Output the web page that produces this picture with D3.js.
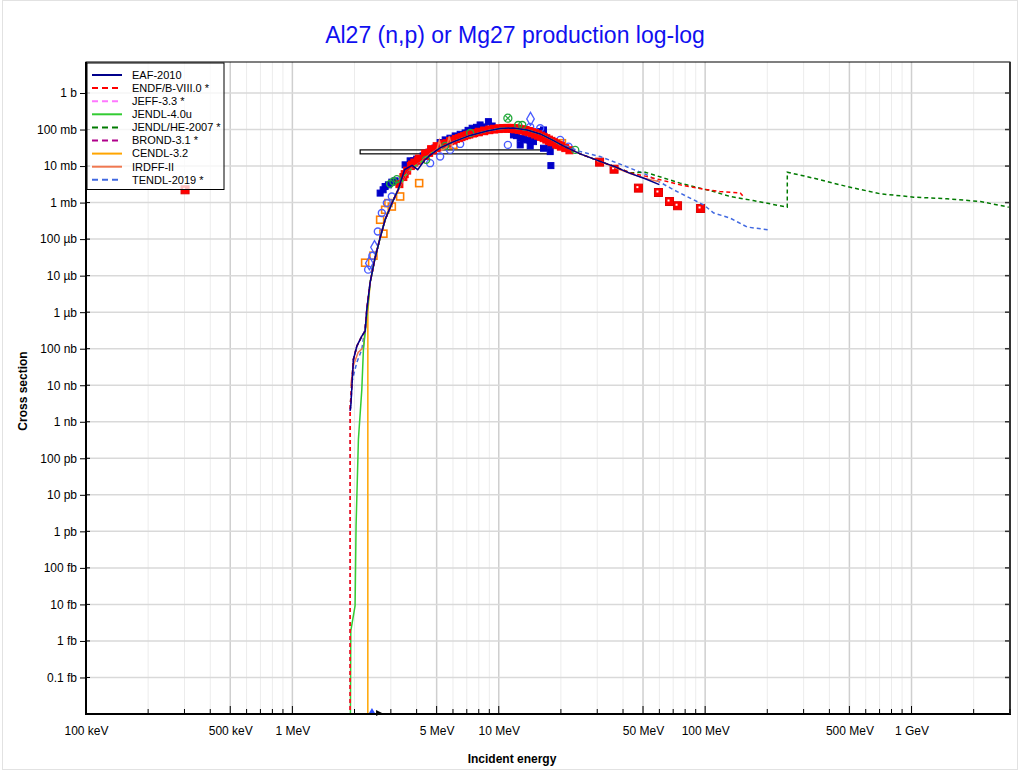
<!DOCTYPE html>
<html><head><meta charset="utf-8">
<script src="https://cdn.jsdelivr.net/npm/d3@7"></script>
<style>
body{margin:0;background:#fff}
text{font-family:"Liberation Sans",Arial,Helvetica,sans-serif}
</style>
</head><body>
<svg id="chart" width="1020" height="772"></svg>
<script>
// ---------------- DATA (energy in MeV, cross section in barns) ----------------
const titleText = "Al27 (n,p) or Mg27 production log-log";
const xTickValues = [0.1, 0.5, 1, 5, 10, 50, 100, 500, 1000];
const xTickLabels = ["100 keV","500 keV","1 MeV","5 MeV","10 MeV","50 MeV","100 MeV","500 MeV","1 GeV"];
const yTickValues = [1,1e-1,1e-2,1e-3,1e-4,1e-5,1e-6,1e-7,1e-8,1e-9,1e-10,1e-11,1e-12,1e-13,1e-14,1e-15,1e-16];
const yTickLabels = ["1 b","100 mb","10 mb","1 mb","100 µb","10 µb","1 µb","100 nb","10 nb","1 nb","100 pb","10 pb","1 pb","100 fb","10 fb","1 fb","0.1 fb"];

const coreRise = [[2.380,6.44e-6],[2.517,3.10e-5],[2.662,1.09e-4],[2.814,3.39e-4],[3.043,9.87e-4],[3.254,2.24e-3]];
const corePeak = [[3.518,5.40e-3],[3.805,8.93e-3],[4.159,1.223e-2],[4.650,2.154e-2],[5.200,3.143e-2],[6.011,4.58e-2],[7.268,6.90e-2],[8.785,9.16e-2],[10.16,0.1072],[11.74,0.1106],[13.73,0.0975],[15.88,0.0758],[18.35,0.0504],[20.0,0.0375]];
const coreHigh = [[20.98,0.0335],[24.81,0.02154],[31.0,0.01344],[36.66,9.51e-3],[43.35,6.52e-3]];

const eafLow = [[1.906,2.0e-9],[1.919,2.7e-9],[1.976,5.07e-8],[2.052,1.17e-7],[2.170,2.2e-7],[2.251,3.0e-7],[2.294,1.18e-6]];
const eafMid = [[3.50,8.0e-3],[3.80,1.05e-2],[4.05,8.0e-3],[4.35,1.4e-2],[4.65,2.0e-2]];
const eafPeak = [[5.200,3.143e-2],[6.011,4.58e-2],[7.268,6.90e-2],[8.785,9.16e-2],[10.16,0.1072],[11.74,0.1106],[13.73,0.0975],[15.88,0.0758],[18.35,0.0504],[20.98,0.0335],[24.81,0.02154],[31.0,0.01344],[36.66,9.51e-3],[43.35,6.3e-3],[51.25,4.5e-3],[60.0,3.1e-3]];

const endfThreshold = [[1.904,1e-22],[1.906,2.5e-9]];
const endfHigh = [[51.25,5.3e-3],[60.6,4.2e-3],[75.7,3.06e-3],[98.2,2.34e-3],[118,2.0e-3],[148,1.82e-3],[152,1.53e-3]];

const jendl4Low = [[1.904,1e-22],[1.919,1.9e-15],[2.013,9.2e-15],[2.035,1.4e-12],[2.089,3.3e-10],[2.170,7.7e-9],[2.209,9.5e-8],[2.294,7.7e-7]];

const jendlHeHigh = [[51.25,6.8e-3],[75.7,3.41e-3],[110,2.0e-3],[132,1.47e-3],[171,1.14e-3],[250,7.5e-4],[250.1,6.8e-3],[335,4.67e-3],[487,2.75e-3],[706,1.74e-3],[1024,1.41e-3],[1486,1.27e-3],[2157,1.07e-3],[2956,7.5e-4]];

const cendlLow = [[2.32,1e-22],[2.321,1.0e-6]];

const irdffLow = [[1.919,9.5e-9],[1.969,3.3e-8],[2.082,7.9e-8],[2.209,1.07e-7],[2.294,1.0e-6]];
const irdffMid = [[3.518,5.40e-3],[3.805,8.93e-3],[4.159,1.223e-2],[4.650,2.154e-2],[5.0,2.6e-2],[5.15,5.0e-2],[5.3,2.7e-2],[5.6,3.3e-2],[5.75,6.5e-2],[5.9,3.6e-2],[6.011,4.58e-2],[7.268,6.90e-2],[8.785,9.16e-2],[10.16,0.1072],[11.74,0.1106],[13.73,0.0975],[15.88,0.0758],[18.35,0.0504],[20.98,0.0335],[24.81,0.02154],[31.0,0.01344],[36.66,9.0e-3],[43.35,6.2e-3],[51.25,4.6e-3],[60.0,3.7e-3]];

const tendlLow = [[1.941,1.2e-8],[2.052,4.2e-8],[2.170,9.5e-8],[2.294,9.0e-7]];
const tendlHigh = [[20.98,0.036],[24.81,0.0249],[31.0,0.0182],[40.0,0.0105],[52.2,5.75e-3],[70.3,2.24e-3],[98.2,8.7e-4],[110,5.2e-4],[132,3.77e-4],[160,2.14e-4],[203,1.8e-4]];

// experimental points
const expBlueFilled = [[2.662,1.82e-3],[2.752,2.24e-3],[2.814,2.75e-3],[2.919,3.06e-3],[3.033,3.63e-3],[3.147,3.94e-3],[3.518,0.0108],[3.72,0.0139],[3.87,0.0139],[4.0,0.0155],[4.3,0.019],[4.6,0.024],[4.9,0.031],
  [5.20,0.044],[5.50,0.052],[5.8,0.058],[6.15,0.0668],[6.5,0.074],[6.87,0.0807],[7.1,0.095],[7.43,0.1085],[7.8,0.115],[8.12,0.1336],[8.5,0.1178],[8.91,0.1644],[9.29,0.125],
  [11.78,0.0712],[12.2,0.068],[12.7,0.0578],[13.2,0.056],[13.68,0.052],[14.2,0.05],[14.73,0.0467],[15.88,0.0877],[16.47,0.0975],[17.75,0.038],[16.47,0.0308],[17.75,0.0249],[17.89,0.0103],[12.7,0.0379],[14.2,0.0356]];
const expBlueOpen = [[2.328,1.46e-5],[2.442,3.52e-5],[2.594,1.62e-4],[2.713,5.17e-4],[2.869,9.7e-4],[3.033,1.47e-3],
  [4.65,0.012],[5.2,0.0182],[5.81,0.0277],[6.50,0.0404],[11.07,0.038],[19.85,0.052],[21.78,0.0341],[15.88,0.1085],[14.2,0.118]];
const expBlueDiamond = [[14.25,0.195],[2.36,2.2e-5],[2.5,6.0e-5]];
const expOrangeOpen = [[2.251,2.26e-5],[2.47,3.52e-5],[2.662,3.39e-4],[2.761,1.41e-4],[2.814,6.36e-4],[2.919,9.7e-4],[3.033,7.8e-4],[3.327,1.47e-3],[4.114,3.41e-3],[6.03,0.038],[19.12,0.038],[20.23,0.0422]];
const expRedBand = [[3.3,3.2e-3],[3.45,5.0e-3],[3.6,7.5e-3],[3.75,1.0e-2],[3.9,1.25e-2],[4.05,1.4e-2],[4.2,1.55e-2],[4.4,1.9e-2],[4.6,2.3e-2],[4.8,2.7e-2],[5.0,3.1e-2],[5.3,3.6e-2],[5.6,4.2e-2],[6.0,5.0e-2],[6.4,5.8e-2],[6.8,6.6e-2],[7.2,7.3e-2],[7.6,8.0e-2],[8.0,8.7e-2],[8.5,9.4e-2],[9.0,0.100],[9.5,0.105],[10.0,0.108],[10.5,0.110],[11.0,0.111],[11.5,0.111],[12.0,0.109],[12.5,0.106],[13.0,0.102],[13.5,0.097],[14.0,0.091],[14.5,0.085],[15.0,0.080],[15.5,0.074],[16.0,0.068],[16.5,0.063],[17.0,0.058],[17.5,0.053],[18.0,0.049],[18.5,0.045],[19.0,0.041],[19.5,0.038],[20.0,0.036],[21,0.031],[22,0.027]];
const expRedBand2 = [[3.5,6.0e-3],[3.8,1.1e-2],[4.1,1.6e-2],[4.4,2.2e-2],[4.7,2.9e-2],[5.0,3.5e-2],[5.4,4.1e-2],[5.8,4.8e-2],[6.2,5.5e-2],[6.6,6.2e-2],[7.0,7.0e-2],[7.5,7.8e-2],[8.0,8.4e-2],[8.5,9.0e-2],[9.0,9.6e-2],[9.5,1.0e-1],[10.0,0.103],[10.5,0.105],[11.0,0.105],[11.5,0.104],[12.0,0.101],[12.5,0.098],[13.0,0.094],[13.5,0.089],[14.0,0.084],[14.5,0.079],[15.0,0.073],[15.5,0.068],[16.0,0.063],[16.5,0.058],[17.0,0.053],[17.5,0.049],[18.0,0.045],[19.0,0.039],[20.0,0.034]];
const expRedHigh = [[30.8,0.0128],[36.2,8.2e-3],[47.5,2.49e-3],[59.4,1.89e-3],[67.2,1.07e-3],[73.5,8.2e-4],[95,6.9e-4],[0.302,2.24e-3]];
const expGreenOpen = [[2.976,3.26e-3],[3.088,3.77e-3],[3.207,4.39e-3],[4.45,0.0148],[5.50,0.0356],[7.27,0.0807],[12.42,0.1336],[13.0,0.1336],[23.46,0.0277]];
const expGreenCross = [[11.07,0.204]];
const integralBox = {e0:2.13, e1:18.2, s0:0.0216, s1:0.0277};
const offScale = [[2.43,"blue"],[2.63,"black"]];

const series = [
  {name:"EAF-2010", color:"#00008b", dash:null, data:[...eafLow, ...coreRise, ...eafMid, ...eafPeak]},
  {name:"ENDF/B-VIII.0 *", color:"#ff0000", dash:"4,3", data:[...endfThreshold, ...eafLow.slice(2), ...coreRise, ...corePeak, ...coreHigh, ...endfHigh]},
  {name:"JEFF-3.3 *", color:"#ff77ff", dash:"4,3", data:[...endfThreshold, ...eafLow.slice(2), ...coreRise, ...corePeak]},
  {name:"JENDL-4.0u", color:"#33cc33", dash:null, data:[...jendl4Low, ...coreRise, ...corePeak]},
  {name:"JENDL/HE-2007 *", color:"#007a00", dash:"4,3", data:[...endfThreshold, ...eafLow.slice(2), ...coreRise, ...corePeak, ...coreHigh, ...jendlHeHigh]},
  {name:"BROND-3.1 *", color:"#b0008a", dash:"4,3", data:[...eafLow, ...coreRise, ...corePeak]},
  {name:"CENDL-3.2", color:"#ffa500", dash:null, data:[...cendlLow, ...coreRise, ...corePeak]},
  {name:"IRDFF-II", color:"#f07850", dash:null, data:[...irdffLow, ...coreRise, ...irdffMid]},
  {name:"TENDL-2019 *", color:"#4169e1", dash:"4,3", data:[...tendlLow, ...coreRise, ...corePeak, ...tendlHigh]}
];
const drawOrder = [8,7,6,5,4,3,2,1,0];

// ---------------- CHART ----------------
const W = 1020, H = 772;
const L = 86, R = 1010, T = 62, B = 714;
const svg = d3.select("#chart");
svg.append("rect").attr("width",W).attr("height",H).attr("fill","#fff");
svg.append("rect").attr("x",2.5).attr("y",0.5).attr("width",W-5).attr("height",H-3)
  .attr("fill","none").attr("stroke","#e2e2e2");

const x = d3.scaleLog().domain([0.1, 3000]).range([L, R]);
const y = d3.scaleLog().domain([1e-17, 7.06]).range([B, T]);

// grid
const g = svg.append("g");
const minorX = [];
for (let d = 0.1; d < 3000; d *= 10) for (let k = 1; k < 10; k++) { const v = d*k; if (v <= 3000) minorX.push(v); }
minorX.forEach(v => {
  const k = Math.round(v / Math.pow(10, Math.floor(Math.log10(v)+1e-9)));
  const major = (k === 1 || k === 5);
  g.append("line").attr("x1",x(v)).attr("x2",x(v)).attr("y1",T).attr("y2",B)
    .attr("stroke", major ? "#cfcfcf" : "#ececec").attr("stroke-width", major ? 1.5 : 1);
});
yTickValues.forEach(v => {
  g.append("line").attr("x1",L).attr("x2",R).attr("y1",y(v)).attr("y2",y(v))
    .attr("stroke","#d9d9d9").attr("stroke-width",1.5);
});

// clip
svg.append("clipPath").attr("id","clip").append("rect").attr("x",L).attr("y",T).attr("width",R-L).attr("height",B-T);
const plot = svg.append("g").attr("clip-path","url(#clip)");

// integral box
plot.append("rect").attr("x",x(integralBox.e0)).attr("y",y(integralBox.s1))
  .attr("width",x(integralBox.e1)-x(integralBox.e0)).attr("height",y(integralBox.s0)-y(integralBox.s1))
  .attr("fill","none").attr("stroke","#000").attr("stroke-width",1.2);

// markers
const sq = (sel, data, fill, stroke, size, sw) => sel.selectAll(null).data(data).enter().append("rect")
  .attr("x",d=>x(d[0])-size/2).attr("y",d=>y(d[1])-size/2).attr("width",size).attr("height",size)
  .attr("fill",fill).attr("stroke",stroke).attr("stroke-width",sw||1);
sq(plot, expOrangeOpen, "none", "#ff8000", 7, 1.6);
sq(plot, expBlueFilled, "#0000c8", "#0000c8", 6, 1);
plot.selectAll(null).data(expBlueOpen).enter().append("circle")
  .attr("cx",d=>x(d[0])).attr("cy",d=>y(d[1])).attr("r",3.5).attr("fill","none").attr("stroke","#4a5cff").attr("stroke-width",1.4);
plot.selectAll(null).data(expBlueDiamond).enter().append("path")
  .attr("transform",d=>`translate(${x(d[0])},${y(d[1])})`).attr("d",d3.symbol(d3.symbolDiamond,50))
  .attr("fill","none").attr("stroke","#4a5cff").attr("stroke-width",1.3);
sq(plot, expRedBand2, "#ff0000", "#ff0000", 7, 1);
sq(plot, expRedBand, "#ff0000", "#ff0000", 7, 1);
plot.selectAll(null).data(expGreenOpen).enter().append("circle")
  .attr("cx",d=>x(d[0])).attr("cy",d=>y(d[1])).attr("r",3.5).attr("fill","none").attr("stroke","#22a83a").attr("stroke-width",1.4);
const gc = plot.selectAll(null).data(expGreenCross).enter().append("g")
  .attr("transform",d=>`translate(${x(d[0])},${y(d[1])})`);
gc.append("circle").attr("r",4).attr("fill","none").attr("stroke","#22a83a").attr("stroke-width",1.3);
gc.append("path").attr("d","M-2.8,-2.8L2.8,2.8M-2.8,2.8L2.8,-2.8").attr("stroke","#22a83a").attr("stroke-width",1.2);
sq(plot, expRedHigh, "#ff0000", "#e00000", 8, 1);
plot.selectAll(null).data(expRedHigh).enter().append("rect")
  .attr("x",d=>x(d[0])-2).attr("y",d=>y(d[1])-2).attr("width",2).attr("height",2).attr("fill","#fff");

// curves
const line = d3.line().x(d=>x(d[0])).y(d=>y(Math.max(d[1],1e-19)));
drawOrder.forEach(i => {
  const s = series[i];
  plot.append("path").attr("d",line(s.data)).attr("fill","none")
    .attr("stroke",s.color).attr("stroke-width",1.5)
    .attr("stroke-dasharray",s.dash);
});

// off-scale markers on the axis
svg.append("path").attr("transform",`translate(${x(offScale[0][0])},${B-2})`)
  .attr("d",d3.symbol(d3.symbolTriangle,22)).attr("fill","#3050ff");
svg.append("path").attr("transform",`translate(${x(offScale[1][0])},${B-1})`)
  .attr("d","M-3,-3L3,0L-3,3Z").attr("fill","#000");

// frame & axes
svg.append("rect").attr("x",L).attr("y",T).attr("width",R-L).attr("height",B-T)
  .attr("fill","none").attr("stroke","#000").attr("stroke-width",1);
svg.append("line").attr("x1",L).attr("x2",L).attr("y1",T).attr("y2",B+1).attr("stroke","#000").attr("stroke-width",2);
svg.append("line").attr("x1",L-1).attr("x2",R+1).attr("y1",B).attr("y2",B).attr("stroke","#000").attr("stroke-width",2);
svg.append("line").attr("x1",R).attr("x2",R).attr("y1",T).attr("y2",B).attr("stroke","#333").attr("stroke-width",2);

// y ticks
const yAxis = d3.axisLeft(y).tickValues(yTickValues).tickFormat((d,i)=>yTickLabels[i]).tickSize(6).tickPadding(3);
const ya = svg.append("g").attr("transform",`translate(${L},0)`).call(yAxis);
ya.select(".domain").remove();
ya.selectAll("text").attr("font-size",12).attr("fill","#000").attr("font-family",'"Liberation Sans",Arial,sans-serif');
ya.selectAll("line").attr("stroke","#000");
yTickValues.forEach(v=>{
  svg.append("line").attr("x1",L).attr("x2",L+4).attr("y1",y(v)).attr("y2",y(v)).attr("stroke","#000");
  svg.append("line").attr("x1",R-5).attr("x2",R).attr("y1",y(v)).attr("y2",y(v)).attr("stroke","#333").attr("stroke-width",1.5);
});

// x ticks (inward)
minorX.forEach(v=>{
  const k = Math.round(v / Math.pow(10, Math.floor(Math.log10(v)+1e-9)));
  const major = (k === 1 || k === 5);
  svg.append("line").attr("x1",x(v)).attr("x2",x(v)).attr("y1",B).attr("y2",B-(major?8:5)).attr("stroke","#000");
});
const xAxis = d3.axisBottom(x).tickValues(xTickValues).tickFormat((d,i)=>xTickLabels[i]).tickSize(0).tickPadding(12);
const xa = svg.append("g").attr("transform",`translate(0,${B})`).call(xAxis);
xa.select(".domain").remove();
xa.selectAll("text").attr("font-size",12).attr("fill","#000").attr("font-family",'"Liberation Sans",Arial,sans-serif');

// labels
svg.append("text").attr("x",515).attr("y",43).attr("text-anchor","middle").attr("font-size",23)
  .attr("fill","#1010f0").text(titleText);
svg.append("text").attr("x",512).attr("y",763).attr("text-anchor","middle").attr("font-size",12)
  .attr("font-weight","bold").text("Incident energy");
svg.append("text").attr("transform","translate(27,391) rotate(-90)").attr("text-anchor","middle")
  .attr("font-size",12).attr("font-weight","bold").text("Cross section");

// legend
const lg = svg.append("g");
lg.append("rect").attr("x",87).attr("y",63).attr("width",137).attr("height",126.5)
  .attr("fill","#fff").attr("fill-opacity",0.75).attr("stroke","#000").attr("stroke-width",1);
series.forEach((s,i)=>{
  const yy = 75 + i*13.1;
  lg.append("line").attr("x1",92).attr("x2",122).attr("y1",yy).attr("y2",yy)
    .attr("stroke",s.color).attr("stroke-width",2).attr("stroke-dasharray",s.dash ? "6,4" : null);
  lg.append("text").attr("x",132).attr("y",yy).attr("dy","0.35em").attr("font-size",11).attr("fill","#000").text(s.name);
});
</script>
</body></html>
